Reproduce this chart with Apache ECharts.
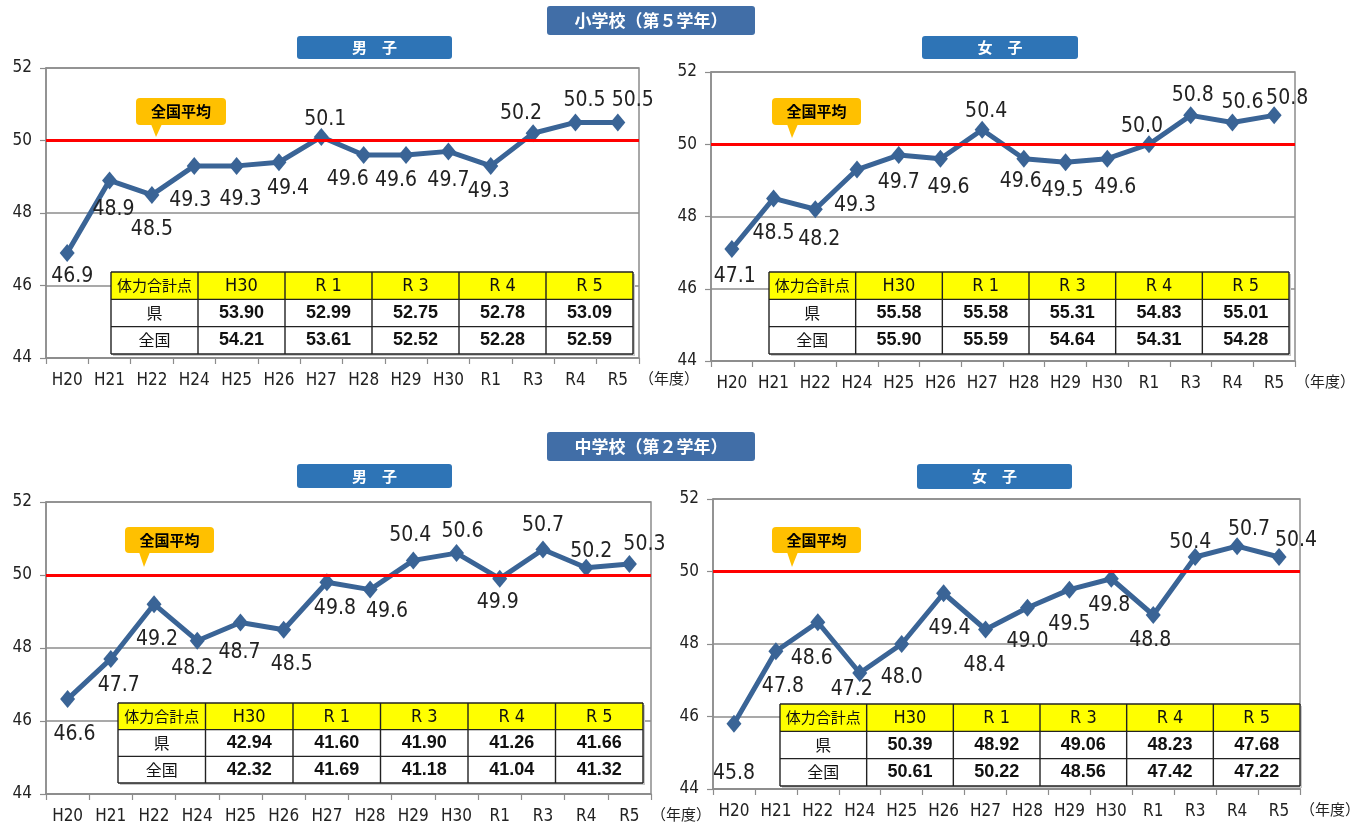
<!DOCTYPE html>
<html>
<head>
<meta charset="utf-8">
<script src="https://cdn.jsdelivr.net/npm/echarts@6/dist/echarts.min.js"></script>
<style>
html, body { margin: 0; padding: 0; background: #fff; }
#main { width: 1361px; height: 829px; }
</style>
</head>
<body>
<div id="main"></div>
<script>
// 年度
var years = ['H20', 'H21', 'H22', 'H24', 'H25', 'H26', 'H27', 'H28', 'H29', 'H30', 'R1', 'R3', 'R4', 'R5'];
// T得点 (全国平均=50)
var elemBoys = [46.9, 48.9, 48.5, 49.3, 49.3, 49.4, 50.1, 49.6, 49.6, 49.7, 49.3, 50.2, 50.5, 50.5];
var elemGirls = [47.1, 48.5, 48.2, 49.3, 49.7, 49.6, 50.4, 49.6, 49.5, 49.6, 50.0, 50.8, 50.6, 50.8];
var juniorBoys = [46.6, 47.7, 49.2, 48.2, 48.7, 48.5, 49.8, 49.6, 50.4, 50.6, 49.9, 50.7, 50.2, 50.3];
var juniorGirls = [45.8, 47.8, 48.6, 47.2, 48.0, 49.4, 48.4, 49.0, 49.5, 49.8, 48.8, 50.4, 50.7, 50.4];
var nationalAvg = 50;

// 体力合計点の表
var tableYears = ['H30', 'R 1', 'R 3', 'R 4', 'R 5'];
var elemBoysPref = [53.90, 52.99, 52.75, 52.78, 53.09];
var elemBoysNat = [54.21, 53.61, 52.52, 52.28, 52.59];
var elemGirlsPref = [55.58, 55.58, 55.31, 54.83, 55.01];
var elemGirlsNat = [55.90, 55.59, 54.64, 54.31, 54.28];
var juniorBoysPref = [42.94, 41.60, 41.90, 41.26, 41.66];
var juniorBoysNat = [42.32, 41.69, 41.18, 41.04, 41.32];
var juniorGirlsPref = [50.39, 48.92, 49.06, 48.23, 47.68];
var juniorGirlsNat = [50.61, 50.22, 48.56, 47.42, 47.22];

// ラベルのずらし量 (px)
var shift1 = [[5,24],[4,29],[0,35],[-4,35],[4,34],[9,26],[4,-17],[-16,25],[-10,26],[0,29],[-2,26],[-12,-20],[9,-22],[15,-22]];
var shift2 = [[3,28],[0,35],[4,30],[-2,36],[0,27],[8,29],[4,-18],[-3,23],[-3,28],[8,29],[-7,-18],[2,-20],[10,-20],[13,-17]];
var shift3 = [[7,35],[8,27],[3,35],[-5,28],[-1,30],[8,35],[8,26],[17,22],[-3,-25],[6,-22],[-2,24],[0,-24],[5,-16],[15,-20]];
var shift4 = [[0,50],[7,35],[-6,36],[-8,17],[0,34],[6,35],[-1,36],[0,34],[0,35],[-2,27],[-3,26],[-5,-14],[12,-17],[17,-16]];

var NARROW = "'Liberation Sans Narrow','DejaVu Sans Condensed',sans-serif";
var JP = "'Noto Sans CJK JP',sans-serif";
var GRAY = '#8c8c8c';

var panels = [
    {
        grid: {left: 46, top: 68, width: 593, height: 290},
        data: elemBoys, shift: shift1,
        table: {x: 111, y: 272, w: 522, h: 82, pref: elemBoysPref, nat: elemBoysNat},
        callout: {x: 136, y: 98, w: 90, h: 27, tipX: 156, tipY: 137},
        tab: {x: 297, y: 36, w: 155, h: 23, text: '男　子'}
    },
    {
        grid: {left: 711, top: 72, width: 584, height: 289},
        data: elemGirls, shift: shift2,
        table: {x: 769, y: 272, w: 520, h: 82, pref: elemGirlsPref, nat: elemGirlsNat},
        callout: {x: 772, y: 98, w: 89, h: 27, tipX: 792, tipY: 138},
        tab: {x: 922, y: 36, w: 156, h: 23, text: '女　子'}
    },
    {
        grid: {left: 46, top: 502, width: 605, height: 292},
        data: juniorBoys, shift: shift3,
        table: {x: 118, y: 703, w: 525, h: 80, pref: juniorBoysPref, nat: juniorBoysNat},
        callout: {x: 125, y: 527, w: 89, h: 26, tipX: 144, tipY: 567},
        tab: {x: 297, y: 464, w: 155, h: 24, text: '男　子'}
    },
    {
        grid: {left: 713, top: 499, width: 595, height: 290},
        data: juniorGirls, shift: shift4,
        table: {x: 780, y: 704, w: 520, h: 82, pref: juniorGirlsPref, nat: juniorGirlsNat},
        callout: {x: 772, y: 527, w: 89, h: 26, tipX: 792, tipY: 567},
        tab: {x: 917, y: 464, w: 155, h: 25, text: '女　子'}
    }
];

function tableGraphic(t) {
    var els = [];
    var c0 = t.w / 6, cw = (t.w - c0) / 5, rh = t.h / 3;
    var line = {stroke: '#222', lineWidth: 1.4};
    els.push({type: 'rect', z: 100, shape: {x: t.x + 2, y: t.y + 2, width: t.w, height: t.h}, style: {fill: '#c8c8c8'}});
    els.push({type: 'rect', z: 101, shape: {x: t.x, y: t.y, width: t.w, height: rh}, style: {fill: '#ffff00'}});
    els.push({type: 'rect', z: 101, shape: {x: t.x, y: t.y + rh, width: t.w, height: 2 * rh}, style: {fill: '#fff'}});
    for (var r = 0; r <= 3; r++) {
        els.push({type: 'line', z: 102, shape: {x1: t.x, y1: t.y + r * rh, x2: t.x + t.w, y2: t.y + r * rh}, style: line});
    }
    for (var c = 0; c <= 6; c++) {
        var cx = c === 0 ? t.x : t.x + c0 + (c - 1) * cw;
        els.push({type: 'line', z: 102, shape: {x1: cx, y1: t.y, x2: cx, y2: t.y + t.h}, style: line});
    }
    function txt(x, y, s, font, size, weight) {
        els.push({type: 'text', z: 103, x: x, y: y, style: {
            text: s, fill: '#111', font: (weight || 'normal') + ' ' + size + 'px ' + font,
            align: 'center', verticalAlign: 'middle'
        }});
    }
    txt(t.x + c0 / 2, t.y + rh / 2, '体力合計点', JP, 15);
    txt(t.x + c0 / 2, t.y + rh * 1.5, '県', JP, 16);
    txt(t.x + c0 / 2, t.y + rh * 2.5, '全国', JP, 16);
    for (var k = 0; k < 5; k++) {
        var mx = t.x + c0 + (k + 0.5) * cw;
        txt(mx, t.y + rh / 2 + 1, tableYears[k], NARROW, 18);
        txt(mx, t.y + rh * 1.5, t.pref[k].toFixed(2), "'Liberation Sans',Arial,sans-serif", 18, 'bold');
        txt(mx, t.y + rh * 2.5, t.nat[k].toFixed(2), "'Liberation Sans',Arial,sans-serif", 18, 'bold');
    }
    return els;
}

function banner(b, fill, size) {
    return [
        {type: 'rect', z: 100, shape: {x: b.x, y: b.y, width: b.w, height: b.h, r: 3}, style: {fill: fill}},
        {type: 'text', z: 101, x: b.x + b.w / 2, y: b.y + b.h / 2, style: {
            text: b.text, fill: '#fff', font: 'bold ' + size + 'px ' + JP, align: 'center', verticalAlign: 'middle'
        }}
    ];
}

function callout(c) {
    var by = c.y + c.h;
    return [
        {type: 'polygon', z: 100, shape: {points: [[c.tipX - 5, by - 1], [c.tipX + 6, by - 1], [c.tipX, c.tipY]]}, style: {fill: '#ffc000'}},
        {type: 'rect', z: 100, shape: {x: c.x, y: c.y, width: c.w, height: c.h, r: 4}, style: {fill: '#ffc000'}},
        {type: 'text', z: 101, x: c.x + c.w / 2, y: c.y + c.h / 2, style: {
            text: '全国平均', fill: '#000', font: 'bold 15px ' + JP, align: 'center', verticalAlign: 'middle'
        }}
    ];
}

var graphics = [];
graphics = graphics.concat(banner({x: 547, y: 6, w: 208, h: 29, text: '小学校（第５学年）'}, '#416ea7', 17));
graphics = graphics.concat(banner({x: 547, y: 432, w: 208, h: 29, text: '中学校（第２学年）'}, '#416ea7', 17));
panels.forEach(function (p) {
    graphics = graphics.concat(banner(p.tab, '#2e74b6', 15));
    graphics = graphics.concat(callout(p.callout));
    graphics = graphics.concat(tableGraphic(p.table));
});

var option = {
    backgroundColor: '#fff',
    animation: false,
    grid: panels.map(function (p) {
        return Object.assign({show: true, borderColor: GRAY, borderWidth: 1.5, backgroundColor: 'transparent'}, p.grid);
    }),
    xAxis: panels.map(function (p, i) {
        return {
            type: 'category', gridIndex: i, data: years, boundaryGap: true,
            axisLine: {lineStyle: {color: GRAY, width: 1.5}},
            axisTick: {show: true, length: 6, lineStyle: {color: GRAY, width: 1.2}},
            axisLabel: {color: '#222', fontSize: 17, fontFamily: NARROW, margin: 14, interval: 0},
            name: '（年度）', nameLocation: 'end', nameGap: 0,
            nameTextStyle: {color: '#222', fontSize: 15, fontFamily: JP, verticalAlign: 'top', padding: [13, 0, 0, 0]}
        };
    }),
    yAxis: panels.map(function (p, i) {
        return {
            type: 'value', gridIndex: i, min: 44, max: 52, interval: 2,
            axisLine: {show: true, lineStyle: {color: GRAY, width: 1.5}},
            axisTick: {show: true, length: 6, lineStyle: {color: GRAY, width: 1.2}},
            splitLine: {lineStyle: {color: GRAY, width: 1.5}},
            axisLabel: {color: '#222', fontSize: 17, fontFamily: NARROW, margin: 14}
        };
    }),
    series: panels.map(function (p, i) {
        return {
            type: 'line', xAxisIndex: i, yAxisIndex: i,
            data: p.data.map(function (v, k) {
                return {value: v, label: {offset: p.shift[k]}};
            }),
            color: '#3a6496',
            lineStyle: {color: '#3a6496', width: 5},
            symbol: 'diamond', symbolSize: [15, 18],
            itemStyle: {color: '#3a6496'},
            label: {
                show: true, position: 'inside', color: '#222', fontSize: 21, fontFamily: NARROW,
                formatter: function (q) { return q.value.toFixed(1); }
            },
            markLine: {
                silent: true, symbol: 'none',
                label: {show: false},
                lineStyle: {color: '#ff0000', width: 3, type: 'solid'},
                data: [{yAxis: nationalAvg}]
            },
            z: 3
        };
    }),
    graphic: {elements: graphics}
};

var chart = echarts.init(document.getElementById('main'));
chart.setOption(option);
</script>
</body>
</html>
